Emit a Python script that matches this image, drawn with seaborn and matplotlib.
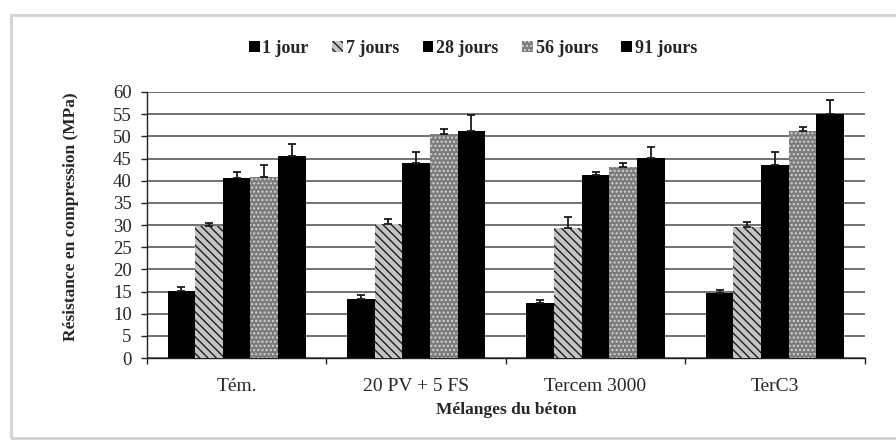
import numpy as np
import pandas as pd
import matplotlib
matplotlib.use("Agg")
import matplotlib.pyplot as plt
from matplotlib.patches import Rectangle
from matplotlib.ticker import MultipleLocator, FixedLocator
import seaborn as sns

# Compressive strength of the concrete mixes at each curing age (MPa)
categories = ["Tém.", "20 PV + 5 FS", "Tercem 3000", "TerC3"]
ages = ["1 jour", "7 jours", "28 jours", "56 jours", "91 jours"]

r_1j = [15.1, 13.4, 12.4, 14.7]
r_7j = [29.8, 30.3, 29.3, 29.5]
r_28j = [40.5, 43.9, 41.3, 43.5]
r_56j = [40.9, 50.5, 43.0, 51.1]
r_91j = [45.5, 51.1, 45.2, 55.0]

# Standard deviations (upper whiskers)
e_1j = [0.9, 0.8, 0.6, 0.6]
e_7j = [0.6, 1.1, 2.5, 1.3]
e_28j = [1.5, 2.5, 0.6, 2.9]
e_56j = [2.6, 1.1, 1.0, 1.1]
e_91j = [2.8, 3.8, 2.5, 3.3]

values = [r_1j, r_7j, r_28j, r_56j, r_91j]
errors = [e_1j, e_7j, e_28j, e_56j, e_91j]

df = pd.DataFrame({
    "Mélange": [c for _ in ages for c in categories],
    "Âge": [a for a in ages for _ in categories],
    "Résistance": [v for series in values for v in series],
})

sns.set_theme(style="white")
plt.rcParams["font.family"] = ["Liberation Serif", "DejaVu Serif"]

fig = plt.figure(figsize=(8.96, 4.40), dpi=100)
ax = fig.add_axes([0.164, 0.186, 0.801, 0.605])

palette = {"1 jour": "#000000", "7 jours": "#c4c4c4", "28 jours": "#000000",
           "56 jours": "#7c7c7c", "91 jours": "#000000"}
hatches = {"1 jour": "", "7 jours": "\\\\\\\\", "28 jours": "",
           "56 jours": "....", "91 jours": ""}
hatch_col = {"1 jour": "#000000", "7 jours": "#1e1e1e", "28 jours": "#000000",
             "56 jours": "#d4d4d4", "91 jours": "#000000"}

sns.barplot(data=df, x="Mélange", y="Résistance", hue="Âge", order=categories,
            hue_order=ages, palette=palette, saturation=1, width=0.77,
            errorbar=None, ax=ax, zorder=3, legend=True)

for cont, age, err in zip(ax.containers, ages, errors):
    xs, tops = [], []
    for bar in cont:
        bar.set_hatch(hatches[age])
        bar.set_edgecolor(hatch_col[age])
        bar.set_linewidth(0)
        xs.append(bar.get_x() + bar.get_width() / 2)
        tops.append(bar.get_height())
    ax.errorbar(xs, tops, yerr=[np.zeros(len(err)), err], fmt="none",
                ecolor="#1a1a1a", elinewidth=1.3, capsize=3, capthick=1.3,
                zorder=4)

ax.set_ylim(0, 60)
ax.set_xlim(-0.5, 3.5)
ax.yaxis.set_major_locator(MultipleLocator(5))
ax.grid(axis="y", color="#4a4a4a", linewidth=1.1, zorder=0)
ax.set_axisbelow(True)

for s in ["top", "right"]:
    ax.spines[s].set_visible(False)
for s in ["left", "bottom"]:
    ax.spines[s].set_color("#222222")
    ax.spines[s].set_linewidth(1.0)

ax.tick_params(axis="y", which="major", left=True, length=4, width=1,
               color="#222222", labelsize=13.5, pad=7)
ax.tick_params(axis="x", which="major", bottom=False, labelsize=14, pad=8)
ax.xaxis.set_minor_locator(FixedLocator([-0.5, 0.5, 1.5, 2.5, 3.5]))
ax.tick_params(axis="x", which="minor", bottom=True, length=4, width=1,
               color="#222222")

ax.set_xlabel("Mélanges du béton", fontsize=12.5, fontweight="bold", labelpad=5)
ax.set_ylabel("Résistance en compression (MPa)", fontsize=12.5,
              fontweight="bold", labelpad=16)
ax.yaxis.set_label_coords(-0.095, 0.53)

handles, labels = ax.get_legend_handles_labels()
ax.legend_.remove()
for h, lab in zip(handles, labels):
    h.set_hatch(hatches[lab])
    h.set_edgecolor(hatch_col[lab])
    h.set_linewidth(0)
fig.legend(handles, labels, loc="center", bbox_to_anchor=(0.528, 0.89),
           ncol=5, frameon=False, prop={"weight": "bold", "size": 13},
           handlelength=0.6, handleheight=0.6, handletextpad=0.15,
           columnspacing=1.3)

# Light frame around the figure
fig.patches.append(Rectangle((0.012, 0.005), 1.0, 0.961, transform=fig.transFigure,
                             fill=False, edgecolor="#d2d2d2", linewidth=2))

fig.savefig("out.png", dpi=100)
